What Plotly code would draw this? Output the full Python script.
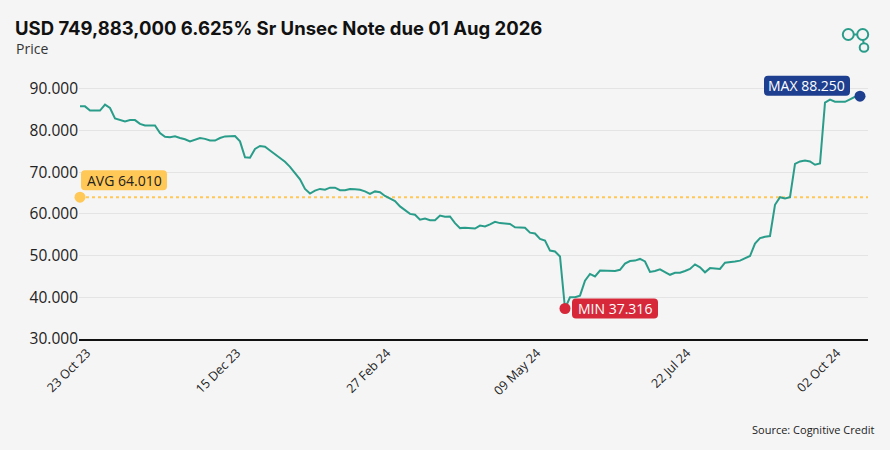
import plotly.graph_objects as go

# ---------------- data ----------------
title_text = "USD 749,883,000 6.625% Sr Unsec Note due 01 Aug 2026"
subtitle_text = "Price"
source_text = "Source: Cognitive Credit"

tick_index = [0, 30, 60, 90, 120, 150]
tick_labels = ["23 Oct 23", "15 Dec 23", "27 Feb 24", "09 May 24", "22 Jul 24", "02 Oct 24"]

y_ticks = [30, 40, 50, 60, 70, 80, 90]

price = [
    85.8, 85.8, 84.8, 84.8, 84.8, 86.2, 85.4, 82.9, 82.5, 82.2,
    82.5, 82.5, 81.6, 81.2, 81.2, 81.2, 79.4, 78.5, 78.4, 78.6,
    78.2, 77.9, 77.4, 77.8, 78.2, 78.0, 77.6, 77.6, 78.2, 78.6,
    78.7, 78.7, 77.4, 73.6, 73.5, 75.6, 76.3, 76.1, 75.2, 74.3,
    73.4, 72.5, 71.3, 69.8, 68.3, 66.0, 64.9, 65.6, 66.0, 65.8,
    66.3, 66.3, 65.7, 65.7, 66.0, 65.9, 65.8, 65.4, 64.8, 65.4,
    65.2, 64.3, 63.7, 63.1, 61.8, 60.8, 60.0, 59.8, 58.6, 58.9,
    58.5, 58.5, 59.6, 59.3, 59.4, 57.8, 56.6, 56.7, 56.6, 56.5,
    57.2, 57.0, 57.5, 58.1, 57.8, 57.7, 57.6, 56.8, 56.7, 56.7,
    55.5, 55.3, 54.0, 53.6, 51.2, 51.0, 49.8, 37.316, 40.0, 40.0,
    40.4, 44.0, 45.6, 45.0, 46.4, 46.4, 46.3, 46.3, 46.6, 48.1,
    48.7, 48.8, 49.2, 48.6, 46.1, 46.3, 46.7, 46.0, 45.4, 45.9,
    45.9, 46.3, 46.8, 47.9, 47.2, 46.0, 47.0, 46.9, 46.8, 48.3,
    48.4, 48.6, 48.8, 49.4, 49.9, 52.9, 54.2, 54.5, 54.7, 62.2,
    64.0, 63.7, 64.0, 72.0, 72.6, 72.8, 72.6, 71.8, 72.1, 86.7,
    87.4, 86.9, 86.9, 86.9, 87.5, 88.1, 88.25, 88.0,
]
avg_value = 64.010

# ---------------- styling ----------------
BG = "#F5F5F5"
LINE = "#2A9D8A"
AVG_C = "#FFC857"
MIN_C = "#D62839"
MAX_C = "#1E3F8F"
TXT = "#222222"

x = list(range(len(price)))
i_min = min(x, key=lambda i: price[i])
i_max = max(x, key=lambda i: price[i])

# plot area in pixels (for paper-coordinate helpers)
W, H = 890, 450
L, R, T, B = 79, 22, 68, 111
PW, PH = W - L - R, H - T - B
X_RANGE = [-0.2, (PW / 5.0) - 0.2]
Y_RANGE = [30, 95]


def px(xp):
    return (xp - L) / PW


def py(yp):
    return (H - B - yp) / PH


def data_px(xv, yv):
    xp = L + (xv - X_RANGE[0]) / (X_RANGE[1] - X_RANGE[0]) * PW
    yp = (H - B) - (yv - Y_RANGE[0]) / (Y_RANGE[1] - Y_RANGE[0]) * PH
    return xp, yp


def rrect(x0, y0, x1, y1, r, color):
    """rounded rectangle from pixel coords -> paper path shape"""
    pts = [
        f"M {px(x0 + r)},{py(y0)}",
        f"L {px(x1 - r)},{py(y0)}",
        f"Q {px(x1)},{py(y0)} {px(x1)},{py(y0 + r)}",
        f"L {px(x1)},{py(y1 - r)}",
        f"Q {px(x1)},{py(y1)} {px(x1 - r)},{py(y1)}",
        f"L {px(x0 + r)},{py(y1)}",
        f"Q {px(x0)},{py(y1)} {px(x0)},{py(y1 - r)}",
        f"L {px(x0)},{py(y0 + r)}",
        f"Q {px(x0)},{py(y0)} {px(x0 + r)},{py(y0)}",
        "Z",
    ]
    return dict(type="path", xref="paper", yref="paper", path=" ".join(pts),
                fillcolor=color, line=dict(width=0), layer="above")


fig = go.Figure()

# average dotted line
fig.add_trace(go.Scatter(
    x=[x[0], len(price) - 1 + 0.6], y=[avg_value, avg_value], mode="lines",
    line=dict(color=AVG_C, width=2, dash="dot"), hoverinfo="skip", showlegend=False,
))

fig.add_trace(go.Scatter(
    x=x, y=price, mode="lines", line=dict(color=LINE, width=2),
    showlegend=False, cliponaxis=False,
))

# markers
for xv, yv, c in [(x[0], avg_value, AVG_C), (i_min, price[i_min], MIN_C), (i_max, price[i_max], MAX_C)]:
    fig.add_trace(go.Scatter(
        x=[xv], y=[yv], mode="markers", marker=dict(color=c, size=11),
        showlegend=False, cliponaxis=False,
    ))

BW, BH = 86, 20
labels = []
# AVG label: right of dot, above the line
ax, ay = data_px(x[0], avg_value)
labels.append((ax + 1, ay - 7 - BH, f"AVG {avg_value:.3f}", AVG_C, TXT))
# MIN label: right of dot
mx, my = data_px(i_min, price[i_min])
labels.append((mx + 7, my - BH / 2, f"MIN {price[i_min]:.3f}", MIN_C, "white"))
# MAX label: left of dot, raised
Mx, My = data_px(i_max, price[i_max])
labels.append((Mx - 10 - BW, My - 10.5 - BH / 2, f"MAX {price[i_max]:.3f}", MAX_C, "white"))

shapes = []
annos = []
for bx, by, txt, bg, fc in labels:
    shapes.append(rrect(bx, by, bx + BW, by + BH, 4, bg))
    annos.append(dict(x=px(bx + BW / 2), y=py(by + BH / 2), xref="paper", yref="paper",
                      text=txt, showarrow=False, xanchor="center", yanchor="middle",
                      font=dict(family="Open Sans", size=14, color=fc)))

annos += [
    dict(x=px(13), y=py(28), xref="paper", yref="paper", text=f"<b>{title_text}</b>",
         showarrow=False, xanchor="left", yanchor="middle",
         font=dict(family="Inter", size=18.5, color="#111111")),
    dict(x=px(14), y=py(48.5), xref="paper", yref="paper", text=subtitle_text,
         showarrow=False, xanchor="left", yanchor="middle",
         font=dict(family="Open Sans", size=14, color="#333333")),
    dict(x=px(876), y=py(429), xref="paper", yref="paper", text=source_text,
         showarrow=False, xanchor="right", yanchor="middle",
         font=dict(family="Open Sans", size=11, color=TXT)),
]

# logo (three linked circles)
for cx, cy, r in [(848.3, 34.5, 5.5), (862.7, 34.5, 5.5), (864.0, 47.5, 4.3)]:
    shapes.append(dict(type="circle", xref="paper", yref="paper",
                       x0=px(cx - r), x1=px(cx + r), y0=py(cy + r), y1=py(cy - r),
                       line=dict(color=LINE, width=2)))
shapes.append(dict(type="line", xref="paper", yref="paper", x0=px(853.8), x1=px(857.2),
                   y0=py(34.5), y1=py(34.5), line=dict(color=LINE, width=2)))
shapes.append(dict(type="line", xref="paper", yref="paper", x0=px(863.1), x1=px(863.6),
                   y0=py(40.0), y1=py(43.2), line=dict(color=LINE, width=2)))

fig.update_layout(
    width=W, height=H,
    margin=dict(l=L, r=R, t=T, b=B),
    paper_bgcolor=BG, plot_bgcolor=BG,
    annotations=annos, shapes=shapes,
    font=dict(family="Open Sans", color=TXT),
    xaxis=dict(
        range=X_RANGE, tickmode="array", tickvals=tick_index,
        ticktext=tick_labels, tickangle=-45, showgrid=False, zeroline=False,
        showline=True, linecolor="#111111", linewidth=1.5, ticks="",
        ticklabelshift=7,
        tickfont=dict(family="Open Sans", size=12.5, color=TXT),
    ),
    yaxis=dict(
        range=Y_RANGE, tickmode="array", tickvals=y_ticks,
        ticktext=[f"{v:.3f}" for v in y_ticks], showgrid=True, gridcolor="#E4E4E4",
        gridwidth=1, zeroline=False, showline=False, ticks="",
        tickfont=dict(family="Open Sans", size=15.5, color=TXT),
    ),
    hovermode=False,
)

fig.write_html(
    "out.html",
    config={"displayModeBar": False},
    post_script="document.body.style.margin='0';document.body.style.background='#F5F5F5';",
)
